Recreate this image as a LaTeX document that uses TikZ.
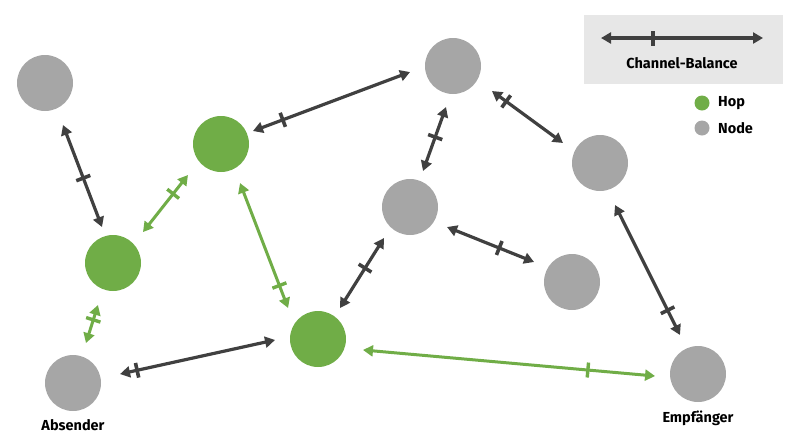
\documentclass[tikz,border=0pt]{standalone}
\usepackage{fontspec}
\setmainfont{Fira Sans}
\usetikzlibrary{arrows.meta}
\definecolor{nodegray}{HTML}{A6A6A6}
\definecolor{hopgreen}{HTML}{70AD47}
\definecolor{linkdark}{HTML}{404040}
\definecolor{legendbg}{HTML}{E7E7E7}
\begin{document}
\begin{tikzpicture}[x=1pt,y=-1pt,
  peer/.style={circle,fill=nodegray,minimum size=56pt,inner sep=0pt},
  hop/.style={circle,fill=hopgreen,minimum size=56pt,inner sep=0pt},
  link/.style={draw=linkdark,line width=3.2pt,{Triangle[length=10pt,width=11pt]}-{Triangle[length=10pt,width=11pt]}},
  glink/.style={draw=hopgreen,line width=3pt,{Triangle[length=10pt,width=11pt]}-{Triangle[length=10pt,width=11pt]}},
  tick/.style={rectangle,fill=linkdark,minimum width=3.6pt,minimum height=15pt,inner sep=0pt,sloped},
  gtick/.style={rectangle,fill=hopgreen,minimum width=3.4pt,minimum height=15pt,inner sep=0pt,sloped},
  lbl/.style={font=\fontsize{14.5}{16}\selectfont\bfseries,text=black,inner sep=0pt},
  dot/.style={circle,minimum size=15pt,inner sep=0pt}]
\useasboundingbox (0,0) rectangle (800,440);

% legend
\node[fill=legendbg,minimum width=199pt,minimum height=69pt,inner sep=0pt] (legend) at (683.5,49.5) {};
\coordinate (la) at (601,38);
\coordinate (lb) at (763,38);
\draw[link] (la) -- node[tick,pos=0.32]{} (lb);
\node[lbl] (lt) at (682,63) {Channel-Balance};
\node[dot,fill=hopgreen] (dh) at (702,103) {};
\node[dot,fill=nodegray] (dn) at (702,128) {};
\node[lbl,anchor=west] (th) at (718,103) {Hop};
\node[lbl,anchor=west] (tn) at (718,128) {Node};

% nodes
\node[peer] (N1) at (45,83) {};
\node[hop] (H1) at (221,144) {};
\node[hop] (H2) at (113,263) {};
\node[peer] (Abs) at (73,383) {};
\node[hop] (H3) at (318,339) {};
\node[peer] (Top) at (453,66) {};
\node[peer] (Mid) at (410,207) {};
\node[peer] (Rt) at (600,163) {};
\node[peer] (LR) at (572,282) {};
\node[peer] (Emp) at (698,374) {};

\node[lbl] (absl) at (73,425) {Absender};
\node[lbl] (empl) at (698,418) {Empfänger};

% dark links
\draw[link] ([shift={(66.8:45.7)}]N1.center) -- node[tick,pos=0.52]{} ([shift={(-107:37.6)}]H2.center);
\draw[link] ([shift={(-22.1:34.5)}]H1.center) -- node[tick,pos=0.19]{} ([shift={(-188:43.4)}]Top.center);
\draw[link] ([shift={(-260.3:41.6)}]Top.center) -- node[tick,pos=0.47]{} ([shift={(-70.1:38.3)}]Mid.center);
\draw[link] ([shift={(32.7:46.3)}]Top.center) -- node[tick,pos=0.2]{} ([shift={(-151.6:42.1)}]Rt.center);
\draw[link] ([shift={(28.4:42.1)}]Mid.center) -- node[tick,pos=0.6]{} ([shift={(-152.2:42.9)}]LR.center);
\draw[link] ([shift={(-230:40.5)}]Mid.center) -- node[tick,pos=0.43]{} ([shift={(-54.6:38)}]H3.center);
\draw[link] ([shift={(70.3:44.6)}]Rt.center) -- node[tick,pos=0.81]{} ([shift={(-114.8:43)}]Emp.center);
\draw[link] ([shift={(-10.8:47.9)}]Abs.center) -- node[tick,pos=0.11]{} ([shift={(-181.3:43)}]H3.center);

% green links
\draw[glink] ([shift={(-45.9:43.1)}]H2.center) -- node[gtick,pos=0.67]{} ([shift={(-223.2:45.3)}]H1.center);
\draw[glink] ([shift={(64:43.4)}]H1.center) -- node[gtick,pos=0.82]{} ([shift={(-134:43.1)}]H3.center);
\draw[glink] ([shift={(13.7:46.3)}]H3.center) -- node[gtick,pos=0.77]{} ([shift={(-182.7:43)}]Emp.center);
\draw[glink] ([shift={(109.7:44.6)}]H2.center) -- node[gtick,pos=0.39]{} ([shift={(-72:42)}]Abs.center);
\end{tikzpicture}
\end{document}
